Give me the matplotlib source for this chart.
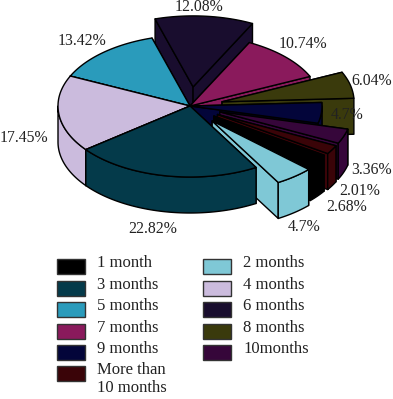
import numpy as np
import matplotlib
matplotlib.use("Agg")
import matplotlib.pyplot as plt
from matplotlib.patches import Polygon, Rectangle

plt.rcParams['font.family'] = ['Liberation Serif', 'DejaVu Serif']

# 数据
categories = ["1 month", "2 months", "3 months", "4 months", "5 months", "6 months",
              "7 months", "8 months", "9 months", "10months", "More than\n10 months"]
values = [2.68, 4.7, 22.82, 17.45, 13.42, 12.08, 10.74, 6.04, 4.7, 3.36, 2.01]
labels = ["2.68%", "4.7%", "22.82%", "17.45%", "13.42%", "12.08%",
          "10.74%", "6.04%", "4.7%", "3.36%", "2.01%"]
colors = ["#000000", "#7FC8D6", "#043A4A", "#CBBBDD", "#2A9BBB", "#190D2E",
          "#8A1A5C", "#3A3A0C", "#03053A", "#36063A", "#3A0408"]
explode = [0.23, 0.27, 0, 0, 0, 0.27, 0, 0.25, 0, 0.24, 0.24]

# 饼图几何参数(像素)
cx, cy = 190, 106
rx, ry = 132, 71
depth = 36
start_angle = 33.4
draw_order = [5, 4, 6, 3, 7, 8, 9, 10, 0, 1, 2]  # 从后往前画

label_pos = [(347, 207), (304, 227), (153, 229), (24, 138), (82, 41), (199, 7),
             (303, 44), (372, 81), (347, 115), (372, 170), (360, 191)]
legend_rows = [259, 281, 302, 324, 345, 366]


def arc(ox, oy, a0, a1):
    t = np.radians(np.linspace(a0, a1, max(int(a1 - a0) * 2, 2)))
    return np.column_stack([ox + rx * np.cos(t), oy + ry * np.sin(t)])


def add_face(ax, pts, color):
    ax.add_patch(Polygon(pts, closed=True, facecolor=color, edgecolor='black',
                         linewidth=1.0, joinstyle='round'))


def draw_slice(ax, a0, a1, e, color):
    mid = np.radians((a0 + a1) / 2)
    ox = cx + e * rx * np.cos(mid)
    oy = cy + e * ry * np.sin(mid)
    down = np.array([0, depth])
    apex = np.array([ox, oy])
    top = arc(ox, oy, a0, a1)

    # 两个切面
    for p in (top[0], top[-1]):
        add_face(ax, [apex, p, p + down, apex + down], color)
    # 外侧面，只画朝前的部分
    for base in (0, 360):
        lo, hi = max(a0, base), min(a1, base + 180)
        if lo < hi:
            edge = arc(ox, oy, lo, hi)
            add_face(ax, np.vstack([edge, edge[::-1] + down]), color)
    # 顶面
    add_face(ax, np.vstack([apex, top]), color)


fig = plt.figure(figsize=(3.93, 3.99), dpi=100)
ax = fig.add_axes([0, 0, 1, 1])
ax.set_xlim(0, 393)
ax.set_ylim(399, 0)
ax.axis('off')

angles = start_angle + np.concatenate([[0], np.cumsum(values)]) / sum(values) * 360
for i in draw_order:
    draw_slice(ax, angles[i], angles[i + 1], explode[i], colors[i])

for (x, y), s in zip(label_pos, labels):
    ax.text(x, y, s, fontsize=11.3, ha='center', va='center', color='#222222')

# 图例
for i, name in enumerate(categories):
    row = legend_rows[i // 2]
    left = 57 if i % 2 == 0 else 203
    ax.add_patch(Rectangle((left, row), 28, 15, facecolor=colors[i],
                           edgecolor='#333333', linewidth=1.0))
    ax.text(left + 40, row - 4, name, fontsize=12, ha='left', va='top',
            color='#222222', linespacing=1.2)

fig.savefig('out.png', dpi=100)
